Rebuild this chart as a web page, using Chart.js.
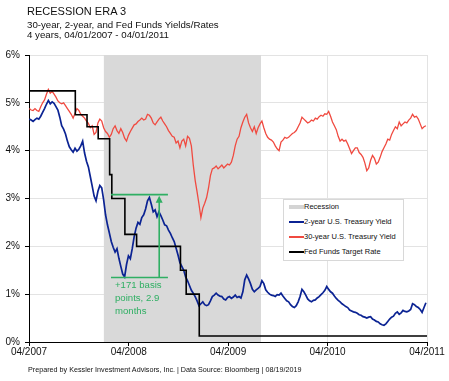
<!DOCTYPE html>
<html>
<head>
<meta charset="utf-8">
<script src="https://cdn.jsdelivr.net/npm/chart.js@4.4.1/dist/chart.umd.min.js"></script>
<style>
  body { margin: 0; background: #fff; font-family: "Liberation Sans", Arial, sans-serif; color: #111; }
  #wrap { position: relative; width: 449px; height: 381px; overflow: hidden; }
  #chart { position: absolute; left: 0; top: 0; }
  .txt { position: absolute; left: 27px; white-space: nowrap; }
  #t1 { top: 5px; font-size: 11px; line-height: 12px; }
  #t2 { top: 18.5px; font-size: 9.7px; line-height: 11px; }
  #t3 { top: 28.6px; font-size: 9.7px; line-height: 11px; }
  #foot { left: 28px; top: 364.5px; font-size: 7.2px; line-height: 9px; }
  #legend { position: absolute; left: 283px; top: 199px; width: 119px; height: 60px;
            border: 1px solid #d8d8d8; background: #fff; }
  .row { position: absolute; left: 0; height: 10px; font-size: 7.5px; line-height: 10px; white-space: nowrap; }
  .swatch { position: absolute; left: 5px; width: 15px; }
  .lbl { position: absolute; left: 20px; top: 0; }
</style>
</head>
<body>
<div id="wrap">
  <canvas id="chart" width="449" height="381"></canvas>
  <div class="txt" id="t1">RECESSION ERA 3</div>
  <div class="txt" id="t2">30-year, 2-year, and Fed Funds Yields/Rates</div>
  <div class="txt" id="t3">4 years, 04/01/2007 - 04/01/2011</div>
  <div class="txt" id="foot">Prepared by Kessler Investment Advisors, Inc. | Data Source: Bloomberg | 08/19/2019</div>
  <div id="legend"></div>
</div>
<script>
// x axis runs in days from this date
const axisStart = '2007-04-01';
const tickDates = ['2007-04-01', '2008-04-01', '2009-04-01', '2010-04-01', '2011-04-01'];
const tickLabels = ['04/2007', '04/2008', '04/2009', '04/2010', '04/2011'];

// weekly readings, first one on this date
const firstWeek = '2007-04-02';

const twoYear = [
  4.66, 4.64, 4.61, 4.65, 4.68, 4.66, 4.72, 4.80, 4.88, 4.97,
  5.05, 4.98, 5.02, 4.99, 4.92, 4.85, 4.70, 4.52, 4.45, 4.35,
  4.20, 4.08, 4.02, 3.97, 4.05, 3.99, 4.03, 4.10, 4.20, 3.95,
  3.78, 3.66, 3.46, 3.26, 3.05, 2.95, 3.15, 3.27, 3.22, 2.97,
  2.66, 2.45, 2.28, 2.10, 1.98, 1.88, 1.95, 1.75, 1.58, 1.42,
  1.36, 1.62, 1.80, 1.74, 1.95, 2.20, 2.38, 2.50, 2.46, 2.60,
  2.66, 2.78, 2.95, 3.02, 2.88, 2.72, 2.76, 2.62, 2.72, 2.64,
  2.55, 2.45, 2.43, 2.34, 2.27, 2.18, 2.10, 1.96, 1.82, 1.66,
  1.58, 1.50, 1.36, 1.28, 1.18, 1.08, 1.02, 0.95, 0.86, 0.76,
  0.80, 0.84, 0.78, 0.76, 0.78, 0.86, 0.95, 0.98, 1.02, 0.98,
  0.96, 0.95, 0.90, 0.88, 0.93, 0.95, 0.91, 0.94, 0.98, 0.93,
  0.95, 0.92, 1.05, 1.30, 1.40, 1.32, 1.22, 1.10, 1.05, 1.09,
  1.12, 1.16, 1.28, 1.22, 1.09, 1.04, 1.00, 0.98, 0.97, 0.95,
  0.99, 0.98, 1.02, 0.96, 0.91, 0.86, 0.84, 0.78, 0.74, 0.72,
  0.76, 0.84, 0.95, 1.10, 1.05, 0.98, 0.90, 0.86, 0.84, 0.87,
  0.88, 0.92, 0.95, 0.99, 1.03, 1.08, 1.16, 1.10, 1.05, 1.02,
  0.96, 0.91, 0.87, 0.84, 0.80, 0.77, 0.74, 0.72, 0.67, 0.65,
  0.63, 0.62, 0.60, 0.57, 0.56, 0.53, 0.52, 0.50, 0.52, 0.53,
  0.48, 0.46, 0.43, 0.42, 0.38, 0.36, 0.35, 0.38, 0.43, 0.48,
  0.52, 0.54, 0.60, 0.63, 0.58, 0.61, 0.66, 0.64, 0.63, 0.65,
  0.68, 0.80, 0.78, 0.74, 0.72, 0.68, 0.62, 0.72, 0.82
];

const thirtyYear = [
  4.88, 4.85, 4.84, 4.88, 4.84, 4.82, 4.92, 5.00, 5.06, 5.18,
  5.28, 5.20, 5.24, 5.18, 5.12, 5.04, 5.00, 4.98, 5.00, 4.94,
  4.88, 4.82, 4.76, 4.68, 4.78, 4.88, 4.84, 4.76, 4.72, 4.68,
  4.62, 4.57, 4.48, 4.52, 4.34, 4.38, 4.58, 4.66, 4.62, 4.48,
  4.40, 4.36, 4.28, 4.34, 4.46, 4.52, 4.42, 4.36, 4.46, 4.38,
  4.26, 4.20, 4.32, 4.40, 4.47, 4.54, 4.56, 4.61, 4.64, 4.68,
  4.64, 4.66, 4.76, 4.74, 4.68, 4.58, 4.54, 4.60, 4.66, 4.70,
  4.62, 4.56, 4.50, 4.42, 4.36, 4.30, 4.28, 4.16, 4.20, 4.06,
  4.20, 4.24, 4.10, 4.30, 4.26, 4.10, 3.70, 3.38, 3.14, 2.88,
  2.60, 2.80, 2.90, 3.02, 3.22, 3.48, 3.62, 3.64, 3.68, 3.62,
  3.66, 3.70, 3.64, 3.68, 3.72, 3.70, 3.76, 3.90, 4.10, 4.24,
  4.30, 4.48, 4.60, 4.70, 4.76, 4.58, 4.48, 4.40, 4.50, 4.36,
  4.48, 4.56, 4.62, 4.48, 4.36, 4.28, 4.24, 4.22, 4.18, 4.10,
  4.04, 4.00, 4.18, 4.22, 4.28, 4.26, 4.28, 4.32, 4.36, 4.38,
  4.42, 4.50, 4.58, 4.70, 4.66, 4.62, 4.58, 4.60, 4.64, 4.62,
  4.68, 4.66, 4.71, 4.74, 4.72, 4.77, 4.76, 4.82, 4.72, 4.60,
  4.52, 4.44, 4.30, 4.20, 4.24, 4.20, 4.22, 4.14, 4.04, 3.94,
  4.00, 4.06, 4.06, 3.96, 3.92, 3.86, 3.74, 3.58, 3.64, 3.80,
  3.90, 3.84, 3.72, 3.76, 3.86, 3.98, 4.06, 4.14, 4.24, 4.22,
  4.34, 4.42, 4.50, 4.46, 4.60, 4.52, 4.56, 4.60, 4.58, 4.64,
  4.68, 4.76, 4.70, 4.72, 4.66, 4.56, 4.46, 4.50, 4.52
];

// Fed Funds target: date of each change and the new rate
const fedDates = ['2007-04-01', '2007-09-18', '2007-10-31', '2007-12-11', '2008-01-22', '2008-01-30',
                  '2008-03-18', '2008-04-30', '2008-10-08', '2008-10-29', '2008-12-16', '2011-04-01'];
const fedRates = [5.25, 4.75, 4.50, 4.25, 3.50, 3.00, 2.25, 2.00, 1.50, 1.00, 0.125, 0.125];

const recessionDates = ['2007-12-31', '2009-07-31'];

// green call-out: low/high of the 2-year bounce
const calloutDates = ['2008-01-27', '2008-08-23'];
const calloutArrowDate = '2008-07-22';
const calloutLow = 1.35;
const calloutHigh = 3.08;
const calloutText = ['+171 basis', 'points, 2.9', 'months'];

const DAY = 86400000;
function dayOf(s) { return (Date.parse(s) - Date.parse(axisStart)) / DAY; }

const weekDays = twoYear.map((v, i) => dayOf(firstWeek) + i * 7);

const green = '#2faf63';

const callout = {
  id: 'callout',
  afterDatasetsDraw(chart) {
    const {ctx, scales: {x, y}} = chart;
    const x0 = x.getPixelForValue(dayOf(calloutDates[0]));
    const x1 = x.getPixelForValue(dayOf(calloutDates[1]));
    const xa = x.getPixelForValue(dayOf(calloutArrowDate));
    const yl = y.getPixelForValue(calloutLow);
    const yh = y.getPixelForValue(calloutHigh);
    ctx.save();
    ctx.strokeStyle = green;
    ctx.lineWidth = 1.6;
    ctx.beginPath();
    ctx.moveTo(x0, yh); ctx.lineTo(x1, yh);
    ctx.moveTo(x0, yl); ctx.lineTo(x1, yl);
    ctx.moveTo(xa, yl); ctx.lineTo(xa, yh + 6);
    ctx.stroke();
    ctx.fillStyle = green;
    ctx.beginPath();
    ctx.moveTo(xa, yh + 1);
    ctx.lineTo(xa - 3.5, yh + 8);
    ctx.lineTo(xa + 3.5, yh + 8);
    ctx.closePath();
    ctx.fill();
    ctx.font = '9.6px "Liberation Sans", Arial, sans-serif';
    ctx.textBaseline = 'alphabetic';
    calloutText.forEach((t, i) => ctx.fillText(t, x0 + 4, yl + 11 + i * 13));
    ctx.restore();
  }
};

const chart = new Chart(document.getElementById('chart'), {
  type: 'line',
  data: {
    datasets: [
      {
        label: 'Recession',
        data: recessionDates.map(d => ({x: dayOf(d), y: 6})),
        borderWidth: 0,
        borderColor: '#d4d4d4',
        backgroundColor: '#d9d9d9',
        fill: 'origin',
        pointRadius: 0,
        order: 4
      },
      {
        label: '2-year U.S. Treasury Yield',
        data: weekDays.map((d, i) => ({x: d, y: twoYear[i]})),
        borderColor: '#0b2393',
        borderWidth: 1.7,
        pointRadius: 0,
        order: 2
      },
      {
        label: '30-year U.S. Treasury Yield',
        data: weekDays.map((d, i) => ({x: d, y: thirtyYear[i]})),
        borderColor: '#f04a40',
        borderWidth: 1.3,
        pointRadius: 0,
        order: 3
      },
      {
        label: 'Fed Funds Target Rate',
        data: fedDates.map((d, i) => ({x: dayOf(d), y: fedRates[i]})),
        borderColor: '#000',
        borderWidth: 1.6,
        stepped: true,
        pointRadius: 0,
        order: 1
      }
    ]
  },
  options: {
    responsive: false,
    animation: false,
    devicePixelRatio: 1,
    layout: { padding: { left: 0, top: 55, right: 22, bottom: 0 } },
    plugins: {
      legend: { display: false },
      tooltip: { enabled: false }
    },
    scales: {
      x: {
        type: 'linear',
        min: 0,
        max: dayOf(tickDates[tickDates.length - 1]),
        afterBuildTicks: (scale) => { scale.ticks = tickDates.map(d => ({value: dayOf(d)})); },
        afterFit: (scale) => { scale.height = 39; },
        grid: { color: '#e3e3e3', tickColor: '#000', tickLength: 4 },
        border: { color: '#000', width: 1 },
        ticks: {
          autoSkip: false,
          maxRotation: 0,
          padding: 0,
          color: '#111',
          font: { family: '"Liberation Sans", Arial, sans-serif', size: 10 },
          callback: (v) => tickLabels[tickDates.findIndex(d => dayOf(d) === v)]
        }
      },
      y: {
        min: 0,
        max: 6,
        afterFit: (scale) => { scale.width = 29; },
        grid: { color: '#e3e3e3', tickColor: '#000', tickLength: 4 },
        border: { color: '#000', width: 1 },
        ticks: {
          stepSize: 1,
          padding: 5,
          color: '#111',
          font: { family: '"Liberation Sans", Arial, sans-serif', size: 10 },
          callback: (v) => v + '%'
        }
      }
    }
  },
  plugins: [callout]
});

// legend box, built from the chart's datasets
const legendRows = [206.7, 222.3, 237.3, 252.3];
const legendEl = document.getElementById('legend');
chart.data.datasets.forEach((ds, i) => {
  const row = document.createElement('div');
  row.className = 'row';
  row.style.top = (legendRows[i] - 199 - 6) + 'px';
  row.style.width = '119px';
  const sw = document.createElement('div');
  sw.className = 'swatch';
  const h = i === 0 ? 4 : 1.6;
  sw.style.height = h + 'px';
  sw.style.top = (5 - h / 2) + 'px';
  sw.style.background = i === 0 ? '#d4d4d4' : ds.borderColor;
  const lb = document.createElement('div');
  lb.className = 'lbl';
  lb.textContent = ds.label;
  row.appendChild(sw);
  row.appendChild(lb);
  legendEl.appendChild(row);
});
</script>
</body>
</html>
